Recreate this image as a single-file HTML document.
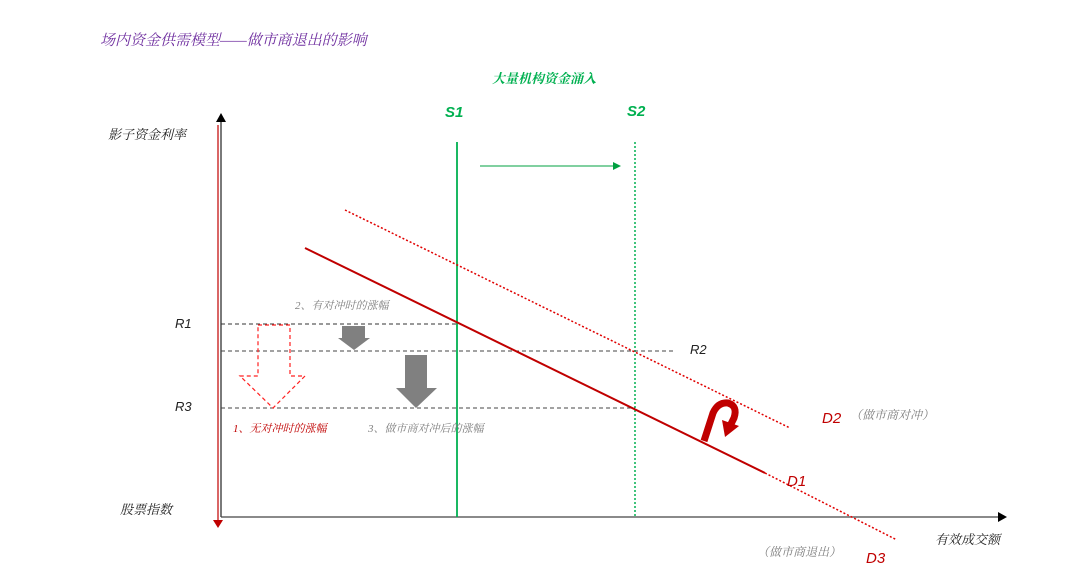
<!DOCTYPE html>
<html><head><meta charset="utf-8"><style>
html,body{margin:0;padding:0;background:#fff;}
svg{display:block;}
text{font-family:"Liberation Serif","Noto Serif CJK SC",serif;font-style:italic;}
text.sans{font-family:"Liberation Sans",sans-serif;}
</style></head><body>
<svg width="1080" height="587" viewBox="0 0 1080 587" xmlns="http://www.w3.org/2000/svg">
<text x="100" y="45" font-size="15" fill="#7030a0">场内资金供需模型——做市商退出的影响</text>
<text x="492" y="83" font-size="13" fill="#00b050" font-weight="bold">大量机构资金涌入</text>
<text class="sans" x="445" y="117" font-size="15" fill="#00b050" font-weight="bold">S1</text>
<text class="sans" x="627" y="116" font-size="15" fill="#00b050" font-weight="bold">S2</text>
<text x="108" y="139" font-size="13" fill="#222">影子资金利率</text>
<text x="120" y="514" font-size="13" fill="#222">股票指数</text>
<text x="935" y="544" font-size="13" fill="#222">有效成交额</text>
<line x1="218" y1="125" x2="218" y2="520" stroke="#c00000" stroke-width="1.2"/>
<polygon points="213,520 223,520 218,528" fill="#c00000"/>
<line x1="221" y1="120" x2="221" y2="517" stroke="#222" stroke-width="1.2"/>
<polygon points="216,122 226,122 221,113" fill="#000"/>
<line x1="221" y1="517" x2="1000" y2="517" stroke="#444" stroke-width="1.2"/>
<polygon points="998,512 998,522 1007,517" fill="#000"/>
<line x1="457" y1="142" x2="457" y2="517" stroke="#00b050" stroke-width="1.8"/>
<line x1="635" y1="142" x2="635" y2="517" stroke="#00b050" stroke-width="1.5" stroke-dasharray="2,2"/>
<line x1="480" y1="166" x2="614" y2="166" stroke="#00a040" stroke-width="1"/>
<polygon points="613,162 613,170 621,166" fill="#00a040"/>
<line x1="221" y1="324" x2="457" y2="324" stroke="#333" stroke-width="1" stroke-dasharray="4,3"/>
<line x1="221" y1="351" x2="675" y2="351" stroke="#444" stroke-width="1" stroke-dasharray="4,3"/>
<line x1="221" y1="408" x2="635" y2="408" stroke="#444" stroke-width="1" stroke-dasharray="4,3"/>
<text class="sans" x="175" y="328" font-size="13" fill="#222">R1</text>
<text class="sans" x="690" y="354" font-size="13" fill="#222">R2</text>
<text class="sans" x="175" y="411" font-size="13" fill="#222">R3</text>
<line x1="345" y1="210" x2="790" y2="428" stroke="#e00000" stroke-width="1.5" stroke-dasharray="2,2"/>
<line x1="305" y1="248" x2="765" y2="473" stroke="#c00000" stroke-width="2"/>
<line x1="765" y1="473" x2="897" y2="540" stroke="#e00000" stroke-width="1.5" stroke-dasharray="2,2"/>
<polygon points="258,325 290,325 290,376 305,376 273,408 240,376 258,376" fill="none" stroke="#ff2020" stroke-width="1.2" stroke-dasharray="4,3"/>
<polygon points="342,326 365,326 365,338 370,338 354,350 338,338 342,338" fill="#808080"/>
<polygon points="405,355 427,355 427,388 437,388 416,408 396,388 405,388" fill="#808080"/>
<path d="M704,441 L713,413 Q718,402 728,403 Q738,406 734,418 L731,424" fill="none" stroke="#c00000" stroke-width="7"/>
<polygon points="722,420 739,426 725,437" fill="#c00000"/>
<text x="295" y="309" font-size="11" fill="#808080">2、有对冲时的涨幅</text>
<text x="233" y="432" font-size="11" fill="#c00000">1、无对冲时的涨幅</text>
<text x="368" y="432" font-size="11" fill="#808080">3、做市商对冲后的涨幅</text>
<text class="sans" x="822" y="423" font-size="15" fill="#c00000">D2</text>
<text x="850" y="419" font-size="12" fill="#808080">（做市商对冲）</text>
<text class="sans" x="787" y="486" font-size="15" fill="#c00000">D1</text>
<text x="757" y="556" font-size="12" fill="#808080">（做市商退出）</text>
<text class="sans" x="866" y="563" font-size="15" fill="#c00000">D3</text>
</svg>
</body></html>
